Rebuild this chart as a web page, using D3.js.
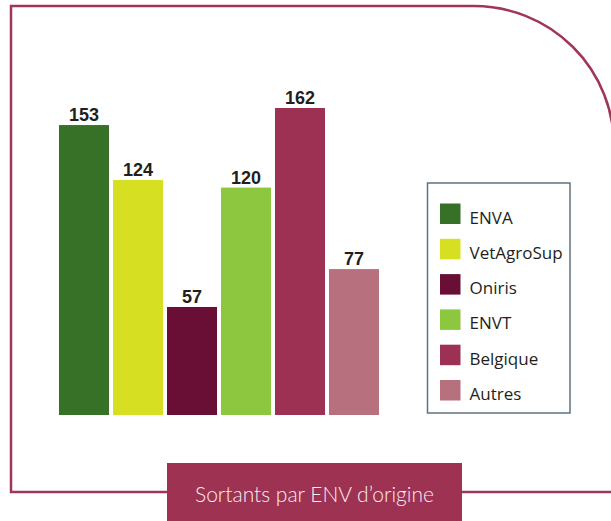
<!DOCTYPE html>
<html>
<head>
<meta charset="utf-8">
<script src="https://cdn.jsdelivr.net/npm/d3@7"></script>
<style>
  html, body { margin: 0; padding: 0; background: #fff; }
  svg { display: block; }
</style>
</head>
<body>
<div id="chart"></div>
<script>
// data
const schools = ["ENVA", "VetAgroSup", "Oniris", "ENVT", "Belgique", "Autres"];
const sortants = [153, 124, 57, 120, 162, 77];
const title = "Sortants par ENV d\u2019origine";

// palette, one per school
const palette = ["#367127", "#d6df22", "#690e35", "#8dc63f", "#9c3153", "#b6707e"];
const frameColor = "#a13559";

const width = 611, height = 521;

const svg = d3.select("#chart").append("svg")
    .attr("width", width)
    .attr("height", height);

// frame with the rounded top-right corner
svg.append("path")
    .attr("d", "M11,492 L11,6 L474,6 A140,140 0 0 1 614,146 L614,492 Z")
    .attr("fill", "none")
    .attr("stroke", frameColor)
    .attr("stroke-width", 2.5);

const x = d3.scaleBand()
    .domain(schools)
    .range([57, 381])
    .paddingInner(0.074)
    .paddingOuter(0.037);

const y = d3.scaleLinear()
    .domain([0, 162])
    .range([415, 108]);

const bars = svg.append("g");

bars.selectAll("rect")
    .data(schools)
    .join("rect")
    .attr("x", d => x(d))
    .attr("y", (d, i) => y(sortants[i]))
    .attr("width", x.bandwidth())
    .attr("height", (d, i) => y(0) - y(sortants[i]))
    .attr("fill", (d, i) => palette[i]);

bars.selectAll("text")
    .data(schools)
    .join("text")
    .attr("x", d => x(d) + x.bandwidth() / 2)
    .attr("y", (d, i) => y(sortants[i]) - 4)
    .attr("text-anchor", "middle")
    .attr("font-family", "'Liberation Sans', Arial, sans-serif")
    .attr("font-weight", 700)
    .attr("font-size", "18px")
    .attr("fill", "#231f20")
    .text((d, i) => sortants[i]);

// legend
const legend = svg.append("g");
legend.append("rect")
    .attr("x", 427.5)
    .attr("y", 183)
    .attr("width", 142.5)
    .attr("height", 230)
    .attr("fill", "#fff")
    .attr("stroke", "#5d7180")
    .attr("stroke-width", 1.5);

const item = legend.selectAll("g.item")
    .data(schools)
    .join("g")
    .attr("class", "item")
    .attr("transform", (d, i) => `translate(440, ${203.5 + i * 35.3})`);

item.append("rect")
    .attr("width", 20.5)
    .attr("height", 20.5)
    .attr("fill", (d, i) => palette[i]);

item.append("text")
    .attr("x", 29.5)
    .attr("y", 20)
    .attr("font-family", "'Open Sans', 'Noto Sans', sans-serif")
    .attr("font-size", "17px")
    .attr("fill", "#231f20")
    .text(d => d);

// title tab at the bottom
svg.append("rect")
    .attr("x", 167)
    .attr("y", 463)
    .attr("width", 295)
    .attr("height", 60)
    .attr("fill", "#9d3253");

svg.append("text")
    .attr("x", 314.5)
    .attr("y", 502)
    .attr("text-anchor", "middle")
    .attr("font-family", "Lato, 'Noto Sans', sans-serif")
    .attr("font-weight", 300)
    .attr("font-size", "21px")
    .attr("fill", "#f8ecef")
    .text(title);
</script>
</body>
</html>
